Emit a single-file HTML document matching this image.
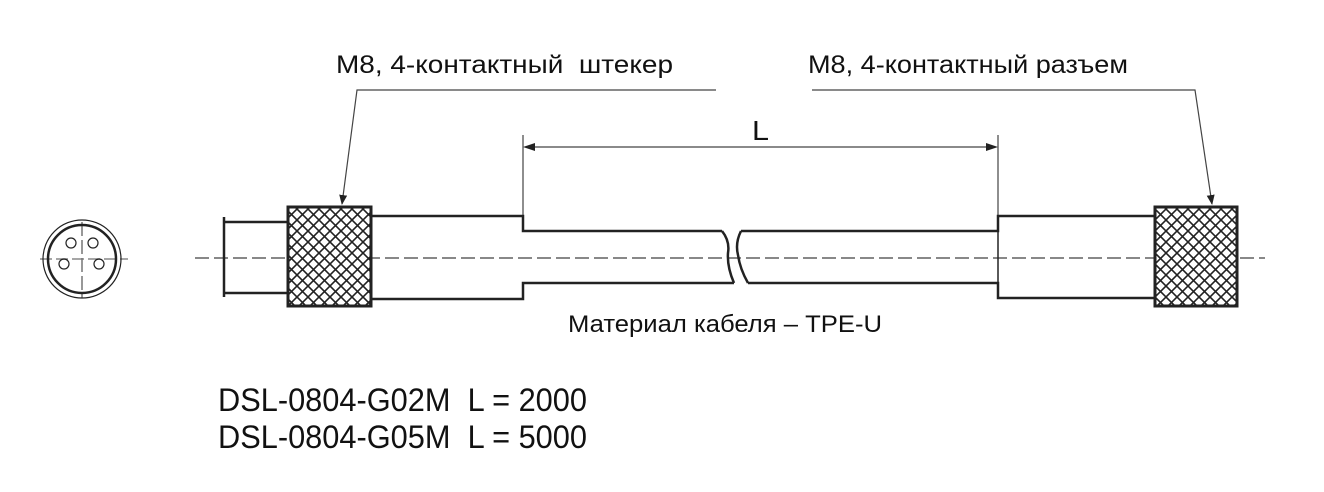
<!DOCTYPE html>
<html><head><meta charset="utf-8"><style>html,body{margin:0;padding:0;background:#fff}svg{display:block}text{white-space:pre}</style></head>
<body>
<svg width="1324" height="492" viewBox="0 0 1324 492" xmlns="http://www.w3.org/2000/svg">
<defs>
<pattern id="h" width="11" height="11" patternUnits="userSpaceOnUse">
<rect width="11" height="11" fill="#fff"/>
<path d="M0 0L11 11M11 0L0 11" stroke="#222" stroke-width="1.6"/>
</pattern>
<marker id="a" markerWidth="10" markerHeight="8" refX="9" refY="4" orient="auto" markerUnits="userSpaceOnUse"><path d="M0 0L10 4L0 8z" fill="#222"/></marker>
</defs>
<g font-family="Liberation Sans, Noto Sans CJK SC, sans-serif" fill="#111">
<text x="336" y="73" font-size="25" textLength="337" lengthAdjust="spacingAndGlyphs">M8, 4-контактный  штекер</text>
<text x="808" y="73" font-size="25" textLength="320" lengthAdjust="spacingAndGlyphs">M8, 4-контактный разъем</text>
<text x="752" y="140" font-size="28" textLength="17" lengthAdjust="spacingAndGlyphs">L</text>
<text x="568" y="332" font-size="24" textLength="314" lengthAdjust="spacingAndGlyphs">Материал кабеля – TPE-U</text>
<text x="218" y="411" font-size="32" textLength="369" lengthAdjust="spacingAndGlyphs">DSL-0804-G02M  L = 2000</text>
<text x="218" y="448" font-size="32" textLength="369" lengthAdjust="spacingAndGlyphs">DSL-0804-G05M  L = 5000</text>
</g>
<g stroke="#444" stroke-width="1.2" fill="none">
<path d="M716 90H357L342 204" marker-end="url(#a)"/>
<path d="M812 90H1195L1212 204" marker-end="url(#a)"/>
<path d="M523 135V215M998 135V215"/>
<path d="M533 147H988"/>
</g>
<path d="M523 147l12-4v8z M998 147l-12-4v8z" fill="#222"/>
<path d="M195 258H1265" stroke="#888" stroke-width="2" stroke-dasharray="14,5"/>
<path d="M40 259H128" stroke="#888" stroke-width="1.5" stroke-dasharray="12,4"/>
<path d="M82 222V298" stroke="#777" stroke-width="1.5" stroke-dasharray="14,4"/>
<g fill="none" stroke="#222">
<circle cx="82" cy="259" r="39" stroke-width="1.2"/>
<circle cx="82" cy="259" r="34" stroke-width="2.5"/>
<circle cx="71" cy="243" r="5" stroke-width="1.2"/>
<circle cx="93" cy="243" r="5" stroke-width="1.2"/>
<circle cx="64" cy="264" r="5" stroke-width="1.2"/>
<circle cx="99" cy="264" r="5" stroke-width="1.2"/>
</g>
<g fill="none" stroke="#222" stroke-width="2.5">
<path d="M224 217V297"/>
<path d="M224 222H288M224 293H288"/>
<path d="M371 216H523V231H722M371 299H523V283H734"/>
<path d="M722 231q8 10 6 22q-1 14 6 30"/>
<path d="M741 231q-6 12 -3 24q2 14 10 28"/>
<path d="M741 231H998V216H1155M748 283H998V298H1155"/>
<path d="M998 216V298" stroke-width="1.5"/>
</g>
<rect x="288" y="207" width="83" height="99" fill="url(#h)" stroke="#222" stroke-width="3"/>
<rect x="1155" y="207" width="82" height="99" fill="url(#h)" stroke="#222" stroke-width="3"/>
</svg>
</body></html>
